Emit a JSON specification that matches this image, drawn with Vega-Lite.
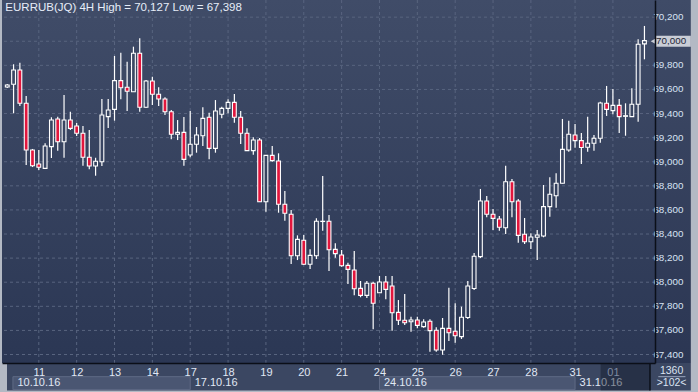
{
  "$schema": "https://vega.github.io/schema/vega-lite/v6.json",
  "width": 653,
  "height": 363,
  "autosize": {"type": "none"},
  "padding": {"left": 2, "top": 0, "right": 43, "bottom": 29},
  "background": "#b3b9c4",
  "config": {
    "view": {
      "stroke": null,
      "fill": {"gradient": "linear", "x1": 0, "y1": 0, "x2": 0, "y2": 1,
        "stops": [{"offset": 0, "color": "#404c68"}, {"offset": 1, "color": "#2b3754"}]}
    },
    "font": "Liberation Sans",
    "axis": {"labelOverlap": false, "labelFlush": false, "grid": false}
  },
  "datasets": {
    "candles": [
      {"i":-5,"o":69620,"h":69645,"l":69612,"c":69637},
      {"i":-4,"o":69643,"h":69809,"l":69402,"c":69761},
      {"i":-3,"o":69761,"h":69822,"l":69463,"c":69485},
      {"i":-2,"o":69485,"h":69546,"l":68973,"c":69097},
      {"i":-1,"o":69097,"h":69106,"l":68956,"c":68967},
      {"i":0,"o":68981,"h":69097,"l":68931,"c":68954},
      {"i":1,"o":68945,"h":69153,"l":68939,"c":69131},
      {"i":2,"o":69125,"h":69369,"l":69031,"c":69346},
      {"i":3,"o":69355,"h":69374,"l":69092,"c":69166},
      {"i":4,"o":69166,"h":69554,"l":69033,"c":69346},
      {"i":5,"o":69346,"h":69415,"l":69263,"c":69277},
      {"i":6,"o":69297,"h":69321,"l":69214,"c":69236},
      {"i":7,"o":69236,"h":69297,"l":68967,"c":69037},
      {"i":8,"o":69037,"h":69263,"l":68937,"c":68965},
      {"i":9,"o":68965,"h":69033,"l":68884,"c":69004},
      {"i":10,"o":69000,"h":69521,"l":68965,"c":69388},
      {"i":11,"o":69374,"h":69521,"l":69280,"c":69429},
      {"i":12,"o":69435,"h":69878,"l":69341,"c":69673},
      {"i":13,"o":69673,"h":69905,"l":69518,"c":69614},
      {"i":14,"o":69618,"h":69830,"l":69421,"c":69585},
      {"i":15,"o":69581,"h":69955,"l":69579,"c":69900},
      {"i":16,"o":69900,"h":70024,"l":69415,"c":69452},
      {"i":17,"o":69452,"h":69678,"l":69446,"c":69670},
      {"i":18,"o":69670,"h":69706,"l":69471,"c":69560},
      {"i":19,"o":69560,"h":69618,"l":69463,"c":69521},
      {"i":20,"o":69521,"h":69535,"l":69388,"c":69415},
      {"i":21,"o":69415,"h":69429,"l":69186,"c":69228},
      {"i":22,"o":69228,"h":69346,"l":69180,"c":69244},
      {"i":23,"o":69244,"h":69371,"l":68967,"c":69020},
      {"i":24,"o":69056,"h":69421,"l":69037,"c":69145},
      {"i":25,"o":69145,"h":69288,"l":69075,"c":69222},
      {"i":26,"o":69216,"h":69452,"l":69131,"c":69360},
      {"i":27,"o":69369,"h":69407,"l":69020,"c":69111},
      {"i":28,"o":69111,"h":69512,"l":69075,"c":69421},
      {"i":29,"o":69394,"h":69457,"l":69360,"c":69443},
      {"i":30,"o":69443,"h":69518,"l":69402,"c":69493},
      {"i":31,"o":69493,"h":69562,"l":69324,"c":69369},
      {"i":32,"o":69369,"h":69421,"l":69147,"c":69236},
      {"i":33,"o":69236,"h":69277,"l":69089,"c":69092},
      {"i":34,"o":69092,"h":69203,"l":69058,"c":69180},
      {"i":35,"o":69180,"h":69197,"l":68666,"c":68668},
      {"i":36,"o":68668,"h":69056,"l":68585,"c":69053},
      {"i":37,"o":69053,"h":69131,"l":69000,"c":69009},
      {"i":38,"o":69006,"h":69070,"l":68577,"c":68647},
      {"i":39,"o":68647,"h":68757,"l":68511,"c":68572},
      {"i":40,"o":68564,"h":68599,"l":68151,"c":68220},
      {"i":41,"o":68220,"h":68389,"l":68184,"c":68356},
      {"i":42,"o":68348,"h":68392,"l":68143,"c":68149},
      {"i":43,"o":68149,"h":68273,"l":68110,"c":68223},
      {"i":44,"o":68220,"h":68530,"l":68193,"c":68506},
      {"i":45,"o":68504,"h":68882,"l":68428,"c":68506},
      {"i":46,"o":68506,"h":68558,"l":68093,"c":68270},
      {"i":47,"o":68273,"h":68323,"l":68203,"c":68237},
      {"i":48,"o":68226,"h":68267,"l":68129,"c":68137},
      {"i":49,"o":68140,"h":68162,"l":67985,"c":68107},
      {"i":50,"o":68101,"h":68259,"l":67891,"c":67946},
      {"i":51,"o":67949,"h":68010,"l":67875,"c":67891},
      {"i":52,"o":67891,"h":68010,"l":67869,"c":67991},
      {"i":53,"o":67991,"h":68004,"l":67609,"c":67825},
      {"i":54,"o":67913,"h":68052,"l":67910,"c":68002},
      {"i":55,"o":68002,"h":68052,"l":67858,"c":67941},
      {"i":56,"o":67969,"h":68052,"l":67598,"c":67747},
      {"i":57,"o":67750,"h":67852,"l":67645,"c":67684},
      {"i":58,"o":67684,"h":67902,"l":67645,"c":67664},
      {"i":59,"o":67672,"h":67714,"l":67589,"c":67686},
      {"i":60,"o":67686,"h":67714,"l":67617,"c":67642},
      {"i":61,"o":67631,"h":67692,"l":67622,"c":67670},
      {"i":62,"o":67676,"h":67692,"l":67423,"c":67598},
      {"i":63,"o":67601,"h":67626,"l":67423,"c":67437},
      {"i":64,"o":67437,"h":67703,"l":67398,"c":67617},
      {"i":65,"o":67617,"h":67954,"l":67512,"c":67581},
      {"i":66,"o":67593,"h":67825,"l":67498,"c":67556},
      {"i":67,"o":67548,"h":67797,"l":67529,"c":67709},
      {"i":68,"o":67707,"h":68010,"l":67695,"c":67969},
      {"i":69,"o":67948,"h":68242,"l":67935,"c":68215},
      {"i":70,"o":68212,"h":68774,"l":68201,"c":68674},
      {"i":71,"o":68674,"h":68716,"l":68539,"c":68564},
      {"i":72,"o":68564,"h":68608,"l":68433,"c":68530},
      {"i":73,"o":68525,"h":68550,"l":68428,"c":68456},
      {"i":74,"o":68452,"h":68967,"l":68400,"c":68834},
      {"i":75,"o":68834,"h":68857,"l":68539,"c":68668},
      {"i":76,"o":68674,"h":68691,"l":68328,"c":68389},
      {"i":77,"o":68398,"h":68533,"l":68317,"c":68336},
      {"i":78,"o":68336,"h":68406,"l":68276,"c":68375},
      {"i":79,"o":68373,"h":68433,"l":68184,"c":68392},
      {"i":80,"o":68384,"h":68807,"l":68373,"c":68627},
      {"i":81,"o":68627,"h":68871,"l":68544,"c":68730},
      {"i":82,"o":68718,"h":68904,"l":68618,"c":68821},
      {"i":83,"o":68821,"h":69355,"l":68819,"c":69103},
      {"i":84,"o":69097,"h":69341,"l":69083,"c":69228},
      {"i":85,"o":69222,"h":69313,"l":69116,"c":69175},
      {"i":86,"o":69175,"h":69239,"l":68981,"c":69118},
      {"i":87,"o":69120,"h":69374,"l":69083,"c":69153},
      {"i":88,"o":69153,"h":69222,"l":69092,"c":69195},
      {"i":89,"o":69195,"h":69498,"l":69158,"c":69488},
      {"i":90,"o":69485,"h":69629,"l":69380,"c":69435},
      {"i":91,"o":69424,"h":69604,"l":69394,"c":69468},
      {"i":92,"o":69468,"h":69521,"l":69239,"c":69374},
      {"i":93,"o":69377,"h":69485,"l":69216,"c":69382},
      {"i":94,"o":69374,"h":69610,"l":69371,"c":69477},
      {"i":95,"o":69477,"h":70016,"l":69332,"c":69975},
      {"i":96,"o":69978,"h":70127,"l":69850,"c":70005}
    ],
    "weeks": [
      {"week":"10.10.16","start":-4.1,"end":24},
      {"week":"17.10.16","start":24,"end":54},
      {"week":"24.10.16","start":54,"end":85},
      {"week":"31.10.16","start":85,"end":96.88}
    ],
    "days": [
      {"i":0,"day":"11"},{"i":6,"day":"12"},{"i":12,"day":"13"},{"i":18,"day":"14"},
      {"i":24,"day":"17"},{"i":30,"day":"18"},{"i":36,"day":"19"},{"i":42,"day":"20"},
      {"i":48,"day":"21"},{"i":54,"day":"24"},{"i":60,"day":"25"},{"i":66,"day":"26"},
      {"i":72,"day":"27"},{"i":78,"day":"28"},{"i":85,"day":"31"},{"i":91,"day":"01"}
    ],
    "levels": [
      {"p":67400},{"p":67600},{"p":67800},{"p":68000},{"p":68200},{"p":68400},{"p":68600},
      {"p":68800},{"p":69000},{"p":69200},{"p":69400},{"p":69600},{"p":69800},{"p":70000},{"p":70200}
    ]
  },
  "layer": [
    {
      "data": {"values": [{"part": "axis column"}]},
      "mark": {"type": "rect",
        "fill": {"gradient": "linear", "x1": 0, "y1": 0, "x2": 0, "y2": 1,
          "stops": [{"offset": 0, "color": "#3f4b67"}, {"offset": 1, "color": "#2b3653"}]}},
      "encoding": {
        "x": {"datum": 96.88, "type": "quantitative",
          "scale": {"domain": [-5.041, 96.88], "nice": false, "zero": false},
          "axis": {
            "orient": "bottom", "zindex": 1,
            "values": [0, 6, 12, 18, 24, 30, 36, 42, 48, 54, 60, 66, 72, 78, 85, 91],
            "labelExpr": "['11','12','13','14','17','18','19','20','21','24','25','26','27','28','31','01'][indexof([0,6,12,18,24,30,36,42,48,54,60,66,72,78,85,91], datum.value)]",
            "title": null, "grid": false,
            "ticks": false, "domainColor": "#0b0f18", "domainWidth": 1.5,
            "labelColor": {"condition": {"test": "datum.value == 91", "value": "#7f8aa1"}, "value": "#e0e8f5"},
            "labelFontSize": 11, "labelPadding": 3,
            "labelOverlap": false, "labelFlush": false
          }},
        "x2": {"datum": 103.35},
        "y": {"datum": 70342.4, "type": "quantitative",
          "scale": {"domain": [67329.5, 70342.4], "nice": false, "zero": false},
          "axis": {
            "orient": "right", "zindex": 1,
            "values": [67400, 70200],
            "labels": false,
            "title": null, "grid": false,
            "ticks": false, "domainColor": "#0b0f18", "domainWidth": 1.5
          }},
        "y2": {"datum": 67329.5}
      }
    },
    {
      "data": {"values": [{"part": "strip"}]},
      "mark": {"type": "rect", "fill": "#3b4762"},
      "encoding": {
        "x": {"datum": -5.041, "type": "quantitative", "title": null},
        "x2": {"datum": 103.35},
        "y": {"datum": 67329.5, "type": "quantitative", "title": null},
        "y2": {"datum": 67101}
      }
    },
    {
      "data": {"name": "days"},
      "mark": {"type": "rule", "stroke": "#58647f", "strokeWidth": 1, "strokeDash": [3, 3]},
      "encoding": {
        "x": {"field": "i", "type": "quantitative", "title": null}
      }
    },
    {
      "data": {"name": "levels"},
      "mark": {"type": "rule", "stroke": "#58647f", "strokeWidth": 1, "strokeDash": [3, 3]},
      "encoding": {
        "y": {"field": "p", "type": "quantitative", "title": null}
      }
    },
    {
      "data": {"name": "levels"},
      "transform": [{"filter": "datum.p != 70000"}],
      "mark": {"type": "text", "align": "left", "baseline": "middle", "fontSize": 9.8, "fill": "#d8e3f4"},
      "encoding": {
        "x": {"datum": 97.42, "type": "quantitative", "title": null},
        "y": {"field": "p", "type": "quantitative", "title": null},
        "text": {"field": "p", "type": "quantitative", "format": ",d"}
      }
    },
    {
      "data": {"name": "candles"},
      "mark": {"type": "rule", "color": "#ffffff", "strokeWidth": 1.2},
      "encoding": {
        "x": {"field": "i", "type": "quantitative", "title": null},
        "y": {"field": "l", "type": "quantitative", "title": null},
        "y2": {"field": "h"}
      }
    },
    {
      "data": {"name": "candles"},
      "mark": {"type": "bar", "size": 3.8, "stroke": "#ffffff", "strokeWidth": 1.1},
      "encoding": {
        "x": {"field": "i", "type": "quantitative", "title": null},
        "y": {"field": "o", "type": "quantitative", "title": null},
        "y2": {"field": "c"},
        "fill": {
          "condition": {"test": "datum.c < datum.o", "value": "#e2163d"},
          "field": "c", "type": "quantitative",
          "scale": {"domain": [67329.5, 70342.4], "range": ["#2b3754", "#404c68"]},
          "legend": null
        }
      }
    },
    {
      "data": {"name": "weeks"},
      "transform": [{"filter": "datum.week == '10.10.16' || datum.week == '24.10.16'"}],
      "mark": {"type": "rect", "fill": "#4a5672", "stroke": "#5f6a85", "strokeWidth": 1},
      "encoding": {
        "x": {"field": "start", "type": "quantitative", "title": null},
        "x2": {"field": "end"},
        "y": {"datum": 67216, "type": "quantitative", "title": null},
        "y2": {"datum": 67108}
      }
    },
    {
      "data": {"name": "weeks"},
      "mark": {"type": "text", "align": "left", "baseline": "middle", "dx": 4.5, "fontSize": 11, "fill": "#e0e8f5"},
      "encoding": {
        "x": {"field": "start", "type": "quantitative", "title": null},
        "y": {"datum": 67160, "type": "quantitative", "title": null},
        "text": {"field": "week"}
      }
    },
    {
      "data": {"values": [{"t": "EURRUB(JQ) 4H  High = 70,127 Low = 67,398"}]},
      "mark": {"type": "text", "align": "left", "baseline": "middle", "fontSize": 11.5, "fill": "#e6edf8"},
      "encoding": {
        "x": {"datum": -5.3, "type": "quantitative", "title": null},
        "y": {"datum": 70272, "type": "quantitative", "title": null},
        "text": {"field": "t"}
      }
    },
    {
      "data": {"values": [{"label": "70,000", "price": 70000}]},
      "layer": [
        {
          "mark": {"type": "point", "shape": "triangle-left", "filled": true, "size": 45, "fill": "#c9cdd6", "opacity": 1, "strokeWidth": 0},
          "encoding": {
            "x": {"datum": 97.45, "type": "quantitative", "title": null},
            "y": {"field": "price", "type": "quantitative", "title": null}
          }
        },
        {
          "mark": {"type": "rect", "fill": "#c9cdd6"},
          "encoding": {
            "x": {"datum": 97.75, "type": "quantitative", "title": null},
            "x2": {"datum": 103.35},
            "y": {"datum": 70046, "type": "quantitative", "title": null},
            "y2": {"datum": 69955}
          }
        },
        {
          "mark": {"type": "text", "align": "left", "baseline": "middle", "fontSize": 9.8, "fill": "#1f2637"},
          "encoding": {
            "x": {"datum": 97.85, "type": "quantitative", "title": null},
            "y": {"field": "price", "type": "quantitative", "title": null},
            "text": {"field": "label"}
          }
        }
      ]
    },
    {
      "data": {"values": [{"part": "overlay"}]},
      "mark": {"type": "rect", "fill": "#0c1222", "opacity": 0.42},
      "encoding": {
        "x": {"datum": 89.05, "type": "quantitative", "title": null},
        "x2": {"datum": 96.88},
        "y": {"datum": 67321, "type": "quantitative", "title": null},
        "y2": {"datum": 67101}
      }
    },
    {
      "data": {"values": [{"part": "edge"}]},
      "mark": {"type": "rule", "stroke": "#0b0f18", "strokeWidth": 1.5},
      "encoding": {
        "x": {"datum": 96.88, "type": "quantitative", "title": null},
        "y": {"datum": 67329.5, "type": "quantitative", "title": null},
        "y2": {"datum": 67101}
      }
    },
    {
      "data": {"values": [{"label": "1360"}]},
      "mark": {"type": "text", "align": "center", "baseline": "middle", "fontSize": 10.5, "fill": "#dce4f2"},
      "encoding": {
        "x": {"datum": 100.3, "type": "quantitative", "title": null},
        "y": {"datum": 67265, "type": "quantitative", "title": null},
        "text": {"field": "label"}
      }
    },
    {
      "data": {"values": [{"label": ">102<"}]},
      "mark": {"type": "text", "align": "center", "baseline": "middle", "fontSize": 10.5, "fill": "#dce4f2"},
      "encoding": {
        "x": {"datum": 100.3, "type": "quantitative", "title": null},
        "y": {"datum": 67165, "type": "quantitative", "title": null},
        "text": {"field": "label"}
      }
    },
    {
      "data": {"values": [{"part": "sep"}]},
      "mark": {"type": "rule", "stroke": "#9aa6bd", "strokeWidth": 1},
      "encoding": {
        "x": {"datum": 98.2, "type": "quantitative", "title": null},
        "x2": {"datum": 102.5},
        "y": {"datum": 67216, "type": "quantitative", "title": null}
      }
    }
  ]
}
